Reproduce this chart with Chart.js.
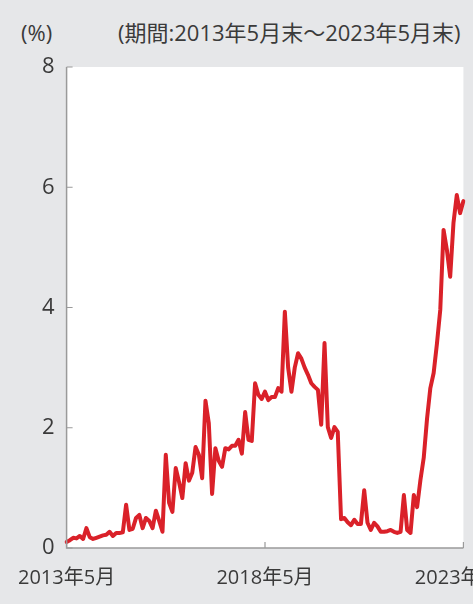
<!DOCTYPE html>
<html><head><meta charset="utf-8">
<script src="https://cdn.jsdelivr.net/npm/chart.js@4.4.0/dist/chart.umd.min.js"></script>
<style>
html,body{margin:0;padding:0;background:#e6e7e9;overflow:hidden;width:473px;height:604px;}
#wrap{position:absolute;left:0;top:0;width:530px;height:604px;}
.hdr{position:absolute;top:16px;font-family:"Open Sans","Noto Sans CJK JP",sans-serif;font-size:22px;color:#3a3a3a;white-space:nowrap;line-height:32px;}
</style></head>
<body>
<div class="hdr" id="unit" style="left:21px;">(%)</div>
<div class="hdr" id="period" style="left:118px;">(期間:2013年5月末～2023年5月末)</div>
<div id="wrap"><canvas id="c" width="530" height="604"></canvas></div>
<script>
const startYear = 2013, startMonth = 5, monthCount = 121;
const months = [];
for (let i = 0; i < monthCount; i++) {
  const m = startMonth - 1 + i;
  months.push((startYear + Math.floor(m / 12)) + '年' + (m % 12 + 1) + '月');
}
const tickLabelIndexes = [0, 60, 120];
const yTicks = [0, 2, 4, 6, 8];
const values = [
0.10,0.13,0.17,0.16,0.20,0.15,0.33,0.18,0.15,0.17,
0.19,0.21,0.22,0.27,0.20,0.25,0.25,0.26,0.72,0.30,
0.32,0.50,0.55,0.33,0.50,0.45,0.33,0.62,0.45,0.27,
1.55,0.75,0.60,1.33,1.10,0.83,1.41,1.12,1.25,1.68,
1.55,1.16,2.45,2.08,0.90,1.66,1.45,1.35,1.66,1.64,
1.70,1.70,1.80,1.57,2.26,1.80,1.78,2.74,2.55,2.48,
2.60,2.46,2.51,2.51,2.66,2.60,3.93,3.00,2.60,3.00,
3.24,3.15,3.00,2.88,2.74,2.68,2.63,2.05,3.41,2.01,
1.83,2.01,1.93,0.48,0.50,0.43,0.38,0.47,0.40,0.40,
0.96,0.42,0.30,0.42,0.36,0.27,0.27,0.28,0.30,0.27,
0.25,0.27,0.88,0.30,0.25,0.88,0.68,1.13,1.50,2.15,
2.66,2.91,3.40,3.96,5.29,4.96,4.51,5.41,5.87,5.57,
5.77
];

const axisColor = '#9a9a9a';
const textColor = '#3a3a3a';
const fontFamily = '"Open Sans","Noto Sans CJK JP",sans-serif';

const areaPlugin = {
  id: 'areaPlugin',
  beforeDraw(chart) {
    const {ctx, chartArea: a} = chart;
    ctx.save();
    ctx.fillStyle = '#ffffff';
    ctx.fillRect(a.left, a.top, a.right - a.left, a.bottom - a.top);
    ctx.restore();
  },
  afterDatasetsDraw(chart) {
    const {ctx, chartArea: a, scales} = chart;
    ctx.save();
    ctx.strokeStyle = axisColor;
    ctx.lineWidth = 1.5;
    ctx.beginPath();
    ctx.moveTo(a.left, a.top);
    ctx.lineTo(a.left, a.bottom);
    ctx.lineTo(a.right, a.bottom);
    ctx.stroke();
    ctx.lineWidth = 1.2;
    ctx.beginPath();
    yTicks.forEach(v => {
      const y = scales.y.getPixelForValue(v);
      ctx.moveTo(a.left, y); ctx.lineTo(a.left + 6, y);
    });
    tickLabelIndexes.forEach(i => {
      const x = scales.x.getPixelForValue(i);
      ctx.moveTo(x, a.bottom); ctx.lineTo(x, a.bottom - 6);
    });
    ctx.stroke();
    ctx.restore();
  }
};

new Chart(document.getElementById('c'), {
  type: 'line',
  data: {
    labels: months,
    datasets: [{
      data: values,
      borderColor: '#da2129',
      borderWidth: 4,
      pointRadius: 0,
      tension: 0,
      borderJoinStyle: 'round',
      borderCapStyle: 'round',
      fill: false
    }]
  },
  options: {
    responsive: false,
    animation: false,
    devicePixelRatio: 1,
    layout: {padding: {top: 67, right: 66, bottom: 0, left: 0}},
    plugins: {legend: {display: false}, tooltip: {enabled: false}},
    scales: {
      x: {
        type: 'category',
        offset: false,
        grid: {display: false, drawTicks: false},
        border: {display: false},
        afterFit(s) { s.height = 56; },
        ticks: {
          autoSkip: false, maxRotation: 0, minRotation: 0, padding: 18,
          color: textColor, font: {family: fontFamily, size: 20},
          callback(v, i) { return tickLabelIndexes.includes(i) ? months[i] : ''; }
        }
      },
      y: {
        min: 0, max: 8,
        afterFit(s) { s.width = 64; },
        afterBuildTicks(s) { s.ticks = yTicks.map(v => ({value: v})); },
        grid: {display: false, drawTicks: false},
        border: {display: false},
        ticks: {padding: 12, color: textColor, font: {family: fontFamily, size: 22}}
      }
    }
  },
  plugins: [areaPlugin]
});
</script>
</body></html>
